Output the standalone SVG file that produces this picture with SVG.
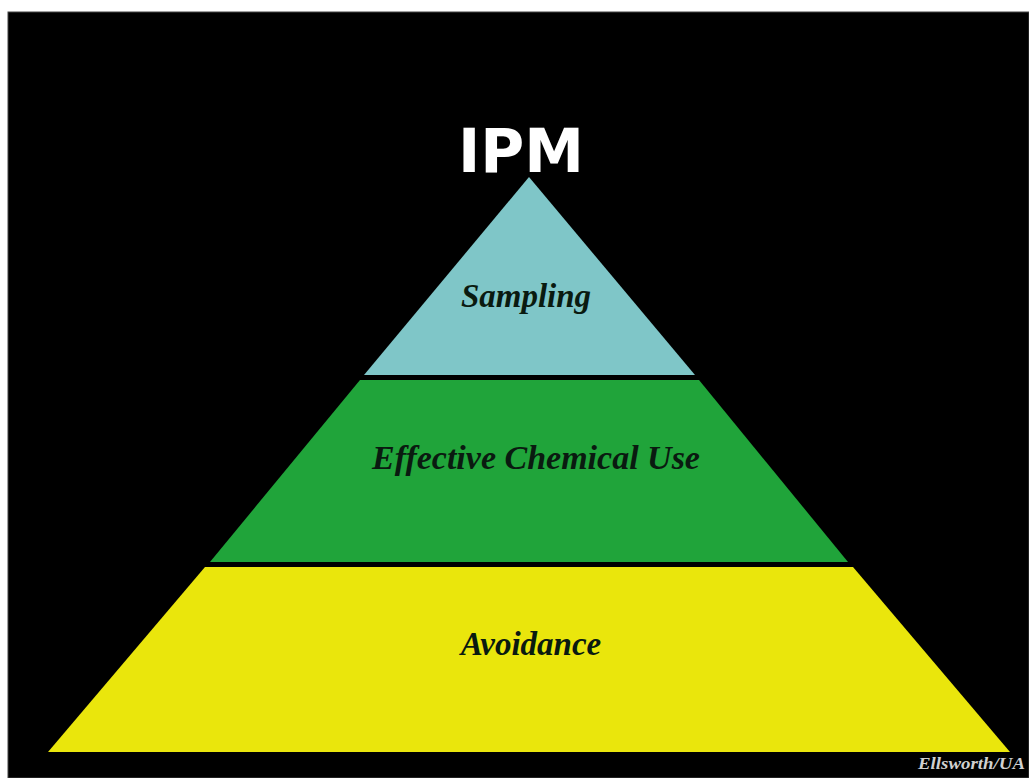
<svg xmlns="http://www.w3.org/2000/svg" width="1029" height="778" viewBox="0 0 1029 778">
<style>
.lbl{font-family:"Liberation Serif","Times New Roman",serif;font-weight:bold;font-style:italic;fill:#0a1a10;text-anchor:middle}
</style>
<rect x="0" y="0" width="1029" height="778" fill="#ffffff"/>
<rect x="8" y="12" width="1021" height="766" fill="#000000" stroke="#444" stroke-width="1"/>
<g id="title"><text x="521" y="172" font-family="DejaVu Sans, Verdana, sans-serif" font-weight="bold" font-size="60" fill="#ffffff" text-anchor="middle">IPM</text></g>
<g id="sampling">
<polygon points="529,177 695,375 364,375" fill="#7fc6c8"/>
<text class="lbl" x="526" y="307" font-size="33">Sampling</text>
</g>
<g id="chemical">
<polygon points="360,380 699,380 848,562 210,562" fill="#20a43a"/>
<text class="lbl" x="536" y="469" font-size="34">Effective Chemical Use</text>
</g>
<g id="avoidance">
<polygon points="205,567 853,567 1010,752 48,752" fill="#eae60c"/>
<text class="lbl" x="531" y="655" font-size="33">Avoidance</text>
</g>
<g id="credit"><text x="1025" y="769" font-family="Liberation Serif, serif" font-style="italic" font-weight="bold" font-size="17" fill="#d0d0d0" text-anchor="end" textLength="107" lengthAdjust="spacingAndGlyphs">Ellsworth/UA</text></g>
<g id="connectors"></g>
</svg>
